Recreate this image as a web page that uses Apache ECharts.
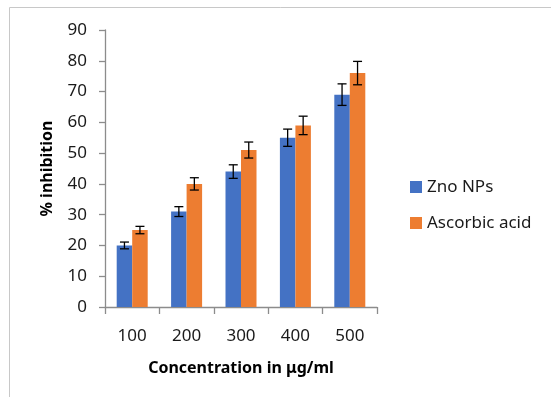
<!DOCTYPE html>
<html>
<head>
<meta charset="utf-8">
<script src="https://cdn.jsdelivr.net/npm/echarts@6/dist/echarts.min.js"></script>
<style>
  html, body { margin: 0; padding: 0; background: #fff; }
  #chart { width: 551px; height: 397px; }
</style>
</head>
<body>
<div id="chart"></div>
<script>
var categories = ['100', '200', '300', '400', '500'];
var znoValues = [20, 31, 44, 55, 69];
var znoErr = [1.1, 1.6, 2.2, 2.8, 3.5];
var ascValues = [25, 40, 51, 59, 76];
var ascErr = [1.2, 2, 2.6, 3, 3.8];

var BAR_W = 15.5;
var FONT = 'Noto Sans';

function errData(vals, errs) {
    var out = [];
    for (var i = 0; i < vals.length; i++) {
        out.push([i, vals[i], errs[i]]);
    }
    return out;
}

// draws the I-shaped error bar over one bar of the pair
function errorBar(offset) {
    return function (params, api) {
        var i = api.value(0), v = api.value(1), e = api.value(2);
        var hi = api.coord([i, v + e]);
        var lo = api.coord([i, v - e]);
        var cx = hi[0] + offset;
        var half = 4.5;
        var style = { stroke: '#000', lineWidth: 1.3 };
        return {
            type: 'group',
            children: [
                { type: 'line', shape: { x1: cx, y1: hi[1], x2: cx, y2: lo[1] }, style: style },
                { type: 'line', shape: { x1: cx - half, y1: hi[1], x2: cx + half, y2: hi[1] }, style: style },
                { type: 'line', shape: { x1: cx - half, y1: lo[1], x2: cx + half, y2: lo[1] }, style: style }
            ]
        };
    };
}

var chart = echarts.init(document.getElementById('chart'));
var option = {
    animation: false,
    backgroundColor: '#fff',
    textStyle: { fontFamily: FONT },
    graphic: [
        // outer frame (left + top edge)
        { type: 'polyline', silent: true,
          shape: { points: [[9.5, 397], [9.5, 7.5], [551, 7.5]] },
          style: { stroke: '#c8c8c8', lineWidth: 1, fill: null } }
    ],
    grid: { left: 105, right: 174, top: 30, bottom: 90 },
    legend: {
        orient: 'vertical',
        left: 410,
        top: 177,
        padding: 0,
        itemWidth: 12,
        itemHeight: 12,
        itemGap: 16,
        icon: 'rect',
        textStyle: { fontFamily: FONT, fontSize: 17, color: '#1a1a1a', lineHeight: 20 },
        data: ['Zno NPs', 'Ascorbic acid']
    },
    xAxis: {
        type: 'category',
        data: categories,
        name: 'Concentration in μg/ml',
        nameLocation: 'middle',
        nameGap: 53,
        nameTextStyle: { fontFamily: FONT, fontSize: 16, fontWeight: 'bold', color: '#000' },
        axisLine: { lineStyle: { color: '#8c8c8c', width: 1.3 } },
        axisTick: { show: true, length: 7, lineStyle: { color: '#8c8c8c', width: 1.3 } },
        axisLabel: { fontFamily: FONT, fontSize: 17, color: '#1a1a1a', margin: 21 }
    },
    yAxis: {
        type: 'value',
        min: 0,
        max: 90,
        interval: 10,
        name: '% inhibition',
        nameLocation: 'middle',
        nameGap: 50,
        nameRotate: 90,
        nameTextStyle: { fontFamily: FONT, fontSize: 16, fontWeight: 'bold', color: '#000' },
        axisLine: { show: true, lineStyle: { color: '#8c8c8c', width: 1.3 } },
        axisTick: { show: true, length: 6, lineStyle: { color: '#8c8c8c', width: 1.3 } },
        axisLabel: { fontFamily: FONT, fontSize: 17, color: '#1a1a1a', margin: 18 },
        splitLine: { show: false }
    },
    series: [
        {
            name: 'Zno NPs',
            type: 'bar',
            barWidth: BAR_W,
            barGap: '0%',
            itemStyle: { color: '#4472c4' },
            data: znoValues
        },
        {
            name: 'Ascorbic acid',
            type: 'bar',
            barWidth: BAR_W,
            barGap: '0%',
            itemStyle: { color: '#ed7d31' },
            data: ascValues
        },
        {
            type: 'custom',
            renderItem: errorBar(-BAR_W / 2),
            data: errData(znoValues, znoErr),
            z: 10
        },
        {
            type: 'custom',
            renderItem: errorBar(BAR_W / 2),
            data: errData(ascValues, ascErr),
            z: 10
        }
    ]
};
chart.setOption(option);
</script>
</body>
</html>
